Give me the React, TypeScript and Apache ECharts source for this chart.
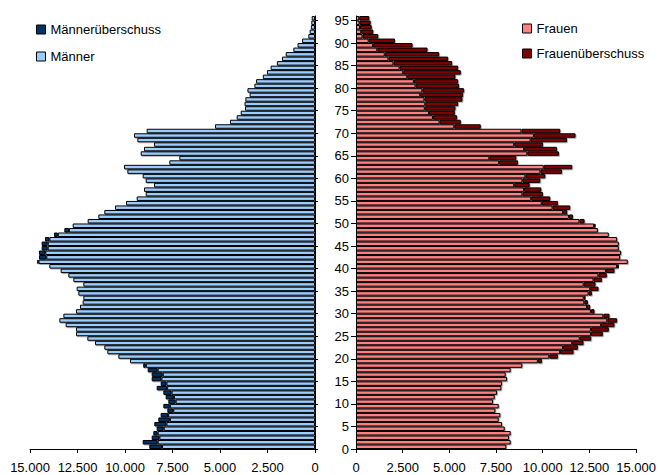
import { useEffect, useRef } from "react";
import * as echarts from "echarts";

// Age groups 0 … 95 (one bar per year of age)
const AGES = Array.from({ length: 96 }, (_, i) => String(i));

// Population by single year of age
const MEN = [
  8719, 9070, 8596, 8508, 8333, 8456, 8246, 8123, 7772, 7982,
  7719, 7860, 7982, 8333, 8123, 8596, 8596, 8807, 9040, 9737,
  10350, 10930, 11088, 11579, 11982, 12579, 12579, 13122, 13456, 13245,
  12579, 12368, 12228, 12193, 12456, 12544, 12193, 12719, 12982, 13386,
  13982, 14614, 14526, 14526, 14386, 14386, 14210, 13737, 13193, 12754,
  11965, 11403, 11088, 10526, 9947, 9385, 8912, 9000, 8474, 8912,
  9070, 9877, 10053, 7667, 7140, 9175, 9000, 8474, 9351, 9526,
  8860, 5263, 4474, 4122, 3911, 3684, 3710, 3665, 3440, 3555,
  3190, 3100, 2745, 2530, 2335, 2005, 1740, 1540, 1140, 918,
  680, 350, 280, 215, 195, 175,
];

const WOMEN = [
  8051, 8283, 8194, 8283, 7963, 7820, 7642, 7731, 7464, 7642,
  7339, 7428, 7553, 7784, 7820, 8087, 8016, 8283, 8907, 9958,
  10813, 11650, 11882, 12184, 12594, 13217, 13537, 13841, 13983, 13574,
  12772, 12541, 12416, 12291, 12630, 12986, 12826, 13164, 13430, 13841,
  14072, 14553, 14144, 14197, 14072, 14072, 13983, 13537, 12950, 12826,
  12238, 11614, 11311, 11472, 10813, 10403, 10011, 9922, 9299, 9868,
  10136, 11027, 11579, 8675, 8586, 10867, 10760, 10011, 11293, 11757,
  10937, 6680, 5611, 5415, 5291, 5326, 5469, 5700, 5736, 5789,
  5522, 5469, 5326, 5611, 5469, 5148, 4935, 4453, 3830, 3028,
  2084, 1193, 926, 837, 784, 712,
];

const VALUE_TICKS = [0, 2500, 5000, 7500, 10000, 12500, 15000];
const AGE_TICKS = [0, 5, 10, 15, 20, 25, 30, 35, 40, 45, 50, 55, 60, 65, 70, 75, 80, 85, 90, 95];

// Both sides show the common part, the surplus of one sex is stacked on top
const MALE_BASE = MEN.map((m, i) => Math.min(m, WOMEN[i]));
const MALE_SURPLUS = MEN.map((m, i) => (m > WOMEN[i] ? m - WOMEN[i] : null));
const FEMALE_BASE = WOMEN.map((w, i) => Math.min(w, MEN[i]));
const FEMALE_SURPLUS = WOMEN.map((w, i) => (w > MEN[i] ? w - MEN[i] : null));

const FONT = "Arial, 'Liberation Sans', sans-serif";
const TOP = 16;
const BOTTOM = 26;

const thousands = (v: number) => String(v).replace(/\B(?=(\d{3})+(?!\d))/g, ".");

const barStyle = (color: string) => ({
  color,
  borderColor: "#000",
  borderWidth: 1,
  shadowColor: "rgba(0,0,0,0.3)",
  shadowBlur: 1,
  shadowOffsetX: 1,
  shadowOffsetY: 1,
});

const valueAxis = (gridIndex: number, inverse: boolean) => ({
  gridIndex,
  type: "value" as const,
  inverse,
  min: 0,
  max: 15000,
  interval: 2500,
  axisLine: { show: true, lineStyle: { color: "#000", width: 1 } },
  axisTick: { show: true, length: 4, lineStyle: { color: "#000" } },
  splitLine: { show: false },
  axisLabel: {
    customValues: VALUE_TICKS,
    formatter: (v: number) => thousands(v),
    color: "#000",
    fontSize: 13,
    fontFamily: FONT,
    margin: 12,
  },
});

const legendText = { fontSize: 13, fontFamily: FONT, color: "#000" };
const legendIcon = { borderColor: "#000", borderWidth: 1, shadowBlur: 0, shadowOffsetX: 0, shadowOffsetY: 0 };

export default function App() {
  const ref = useRef<HTMLDivElement>(null);

  useEffect(() => {
    if (!ref.current) return;
    const chart = echarts.init(ref.current, null, { renderer: "svg" });
    chart.setOption({
      animation: false,
      backgroundColor: "#fff",
      textStyle: { fontFamily: FONT },
      legend: [
        {
          data: ["Männerüberschuss", "Männer"],
          orient: "vertical",
          left: 31,
          top: 18,
          icon: "rect",
          itemWidth: 9,
          itemHeight: 9,
          itemGap: 14,
          textStyle: legendText,
          itemStyle: legendIcon,
        },
        {
          data: ["Frauen", "Frauenüberschuss"],
          orient: "vertical",
          left: 517,
          top: 17,
          icon: "rect",
          itemWidth: 9,
          itemHeight: 9,
          itemGap: 12,
          textStyle: legendText,
          itemStyle: legendIcon,
        },
      ],
      grid: [
        { left: 30, width: 285, top: TOP, bottom: BOTTOM },
        { left: 356, width: 281, top: TOP, bottom: BOTTOM },
      ],
      xAxis: [valueAxis(0, true), valueAxis(1, false)],
      yAxis: [
        { gridIndex: 0, type: "category", data: AGES, show: false },
        {
          gridIndex: 0,
          type: "value",
          position: "right",
          min: 0,
          max: 96,
          axisLine: { show: true, lineStyle: { color: "#000", width: 1 } },
          axisTick: { show: true, length: 3, customValues: AGE_TICKS, lineStyle: { color: "#000" } },
          axisLabel: { show: false },
          splitLine: { show: false },
        },
        { gridIndex: 1, type: "category", data: AGES, show: false },
        {
          gridIndex: 1,
          type: "value",
          position: "left",
          min: 0,
          max: 96,
          axisLine: { show: true, lineStyle: { color: "#000", width: 1 } },
          axisTick: { show: true, length: 5, customValues: AGE_TICKS, lineStyle: { color: "#000" } },
          axisLabel: {
            customValues: AGE_TICKS,
            color: "#000",
            fontSize: 13,
            fontFamily: FONT,
            margin: 7,
          },
          splitLine: { show: false },
        },
      ],
      series: [
        {
          name: "Männer",
          type: "bar",
          xAxisIndex: 0,
          yAxisIndex: 0,
          stack: "men",
          barCategoryGap: "0%",
          data: MALE_BASE,
          itemStyle: barStyle("#99CCFF"),
        },
        {
          name: "Männerüberschuss",
          type: "bar",
          xAxisIndex: 0,
          yAxisIndex: 0,
          stack: "men",
          barCategoryGap: "0%",
          data: MALE_SURPLUS,
          itemStyle: barStyle("#003366"),
        },
        {
          name: "Frauen",
          type: "bar",
          xAxisIndex: 1,
          yAxisIndex: 2,
          stack: "women",
          barCategoryGap: "0%",
          data: FEMALE_BASE,
          itemStyle: barStyle("#FF8080"),
        },
        {
          name: "Frauenüberschuss",
          type: "bar",
          xAxisIndex: 1,
          yAxisIndex: 2,
          stack: "women",
          barCategoryGap: "0%",
          data: FEMALE_SURPLUS,
          itemStyle: barStyle("#800000"),
        },
      ],
    });
    return () => chart.dispose();
  }, []);

  return (
    <div
      ref={ref}
      style={{ position: "absolute", left: 0, top: 0, width: 659, height: 475 }}
    />
  );
}
